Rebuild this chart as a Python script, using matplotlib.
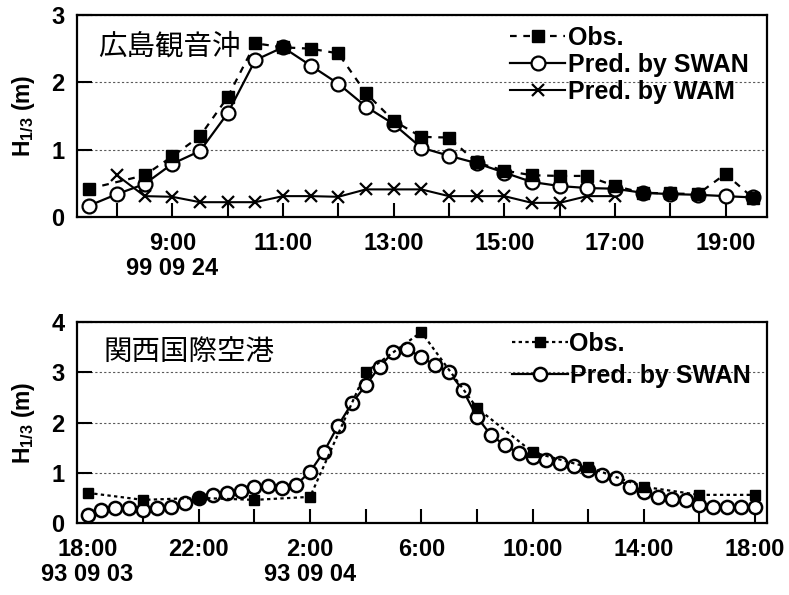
import matplotlib
matplotlib.use('Agg')
import matplotlib.pyplot as plt

plt.rcParams['font.family'] = ['Liberation Sans', 'Noto Sans CJK JP', 'DejaVu Sans']
plt.rcParams['font.weight'] = 'bold'
plt.rcParams['mathtext.fontset'] = 'custom'
plt.rcParams['mathtext.rm'] = 'Liberation Sans:bold'
plt.rcParams['mathtext.it'] = 'Liberation Sans:bold'
plt.rcParams['mathtext.bf'] = 'Liberation Sans:bold'

# ---------------- Top panel: 広島観音沖 (hours of 99 09 24) ----------------
top_obs_t = [7.5, 8.5, 9.0, 9.5, 10.0, 10.5, 11.0, 11.5, 12.0, 12.5, 13.0, 13.5,
             14.0, 14.5, 15.0, 15.5, 16.0, 16.5, 17.0, 17.5, 18.0, 18.5, 19.0, 19.5]
top_obs = [0.42, 0.62, 0.90, 1.20, 1.78, 2.58, 2.52, 2.50, 2.43, 1.84, 1.43, 1.19,
           1.18, 0.81, 0.69, 0.62, 0.61, 0.61, 0.46, 0.36, 0.35, 0.34, 0.64, 0.28]

top_swan_t = [7.5, 8.0, 8.5, 9.0, 9.5, 10.0, 10.5, 11.0, 11.5, 12.0, 12.5, 13.0, 13.5,
              14.0, 14.5, 15.0, 15.5, 16.0, 16.5, 17.0, 17.5, 18.0, 18.5, 19.0, 19.5]
top_swan = [0.17, 0.34, 0.49, 0.79, 0.98, 1.54, 2.33, 2.52, 2.25, 1.98, 1.64, 1.38, 1.03,
            0.91, 0.80, 0.66, 0.52, 0.46, 0.43, 0.42, 0.36, 0.34, 0.33, 0.31, 0.29]

top_wam_t = [8.0, 8.5, 9.0, 9.5, 10.0, 10.5, 11.0, 11.5, 12.0, 12.5, 13.0, 13.5,
             14.0, 14.5, 15.0, 15.5, 16.0, 16.5, 17.0]
top_wam = [0.62, 0.31, 0.30, 0.22, 0.22, 0.22, 0.31, 0.31, 0.30, 0.41, 0.41, 0.41,
           0.31, 0.31, 0.31, 0.21, 0.21, 0.31, 0.31]

top_ticks = [8, 9, 10, 11, 12, 13, 14, 15, 16, 17, 18, 19]
top_ticklabels = ['', '9:00\n99 09 24', '', '11:00', '', '13:00', '', '15:00', '', '17:00', '', '19:00']

# ---------------- Bottom panel: 関西国際空港 (hours since 18:00 93 09 03) ----------------
bot_obs_t = [0, 2, 4, 6, 8, 10, 12, 14, 16, 18, 20, 22, 24]
bot_obs = [0.60, 0.46, 0.50, 0.46, 0.52, 3.00, 3.80, 2.29, 1.41, 1.11, 0.72, 0.56, 0.56]

bot_swan_t = [0, 0.5, 1, 1.5, 2, 2.5, 3, 3.5, 4, 4.5, 5, 5.5, 6, 6.5, 7, 7.5, 8, 8.5,
              9, 9.5, 10, 10.5, 11, 11.5, 12, 12.5, 13, 13.5, 14, 14.5, 15, 15.5, 16,
              16.5, 17, 17.5, 18, 18.5, 19, 19.5, 20, 20.5, 21, 21.5, 22, 22.5, 23, 23.5, 24]
bot_swan = [0.16, 0.26, 0.29, 0.29, 0.26, 0.29, 0.32, 0.39, 0.49, 0.56, 0.60, 0.64, 0.72,
            0.74, 0.69, 0.76, 1.02, 1.42, 1.93, 2.38, 2.74, 3.11, 3.41, 3.46, 3.30, 3.14,
            3.00, 2.64, 2.11, 1.75, 1.55, 1.39, 1.31, 1.25, 1.19, 1.13, 1.06, 0.96, 0.89,
            0.72, 0.62, 0.52, 0.48, 0.45, 0.36, 0.32, 0.32, 0.32, 0.32]

bot_ticks = [0, 2, 4, 6, 8, 10, 12, 14, 16, 18, 20, 22, 24]
bot_ticklabels = ['18:00\n93 09 03', '', '22:00', '', '2:00\n93 09 04', '', '6:00', '',
                  '10:00', '', '14:00', '', '18:00']

W, H = 789, 595
fig = plt.figure(figsize=(W / 100, H / 100), dpi=100)

def frac(l, t, r, b):
    return [l / W, 1 - b / H, (r - l) / W, (b - t) / H]

ax1 = fig.add_axes(frac(77, 15, 767, 217))
ax2 = fig.add_axes(frac(77, 322, 767, 523))

# top panel
ax1.plot(top_wam_t, top_wam, color='black', lw=1.5, marker='x', ms=9, mew=1.6,
         label='Pred. by WAM', zorder=3)
ax1.plot(top_swan_t, top_swan, color='black', lw=1.6, marker='o', ms=10, mfc='white',
         mec='black', mew=1.6, label='Pred. by SWAN', zorder=4)
ax1.plot(top_obs_t, top_obs, color='black', lw=1.6, ls=(0, (3, 3)), marker='s', ms=8,
         mfc='black', mec='black', label='Obs.', zorder=5)
ax1.set_xlim(7.277, 19.75)
ax1.set_ylim(0, 3)
ax1.set_yticks([0, 1, 2, 3])
ax1.set_xticks(top_ticks)
ax1.set_xticklabels(top_ticklabels, linespacing=1.1)

# bottom panel
ax2.plot(bot_swan_t, bot_swan, color='black', lw=1.6, marker='o', ms=9.5, mfc='white',
         mec='black', mew=1.8, label='Pred. by SWAN', zorder=4)
ax2.plot(bot_obs_t, bot_obs, color='black', lw=1.6, ls=(0, (1.5, 1.5)), marker='s', ms=7,
         mfc='black', mec='black', label='Obs.', zorder=5)
ax2.set_xlim(-0.38, 24.43)
ax2.set_ylim(0, 4)
ax2.set_yticks([0, 1, 2, 3, 4])
ax2.set_xticks(bot_ticks)
ax2.set_xticklabels(bot_ticklabels, linespacing=1.1)

for ax in (ax1, ax2):
    for s in ax.spines.values():
        s.set_linewidth(1.6)
    ax.grid(axis='y', ls=(0, (2, 2)), color='0.35', lw=0.8)
    ax.tick_params(axis='x', direction='in', length=10, width=1.5, labelsize=17, pad=11)
    ax.tick_params(axis='y', direction='in', length=11, width=1.5, labelsize=17, pad=9)
    ax.set_ylabel(r'$\mathrm{H}_{1/3}$ (m)', fontsize=16.5, fontweight='bold')
    ax.yaxis.label.set_va('center')
    ax.yaxis.set_label_coords(-0.078, 0.5)

ax1.text(0.030, 0.842, '広島観音沖', transform=ax1.transAxes, fontsize=20.5,
         fontweight='normal', family='Noto Sans CJK JP', ha='left', va='center')
ax2.text(0.038, 0.851, '関西国際空港', transform=ax2.transAxes, fontsize=20.5,
         fontweight='normal', family='Noto Sans CJK JP', ha='left', va='center')

h1, l1 = ax1.get_legend_handles_labels()
order = [2, 1, 0]
ax1.legend([h1[i] for i in order], [l1[i] for i in order], loc='upper left',
           bbox_to_anchor=(510 / W, 1 - 26 / H), bbox_transform=fig.transFigure,
           frameon=False, borderpad=0, borderaxespad=0, handlelength=2.2,
           handletextpad=0.12, labelspacing=0.12, numpoints=1,
           prop={'size': 18, 'weight': 'bold'})

h2, l2 = ax2.get_legend_handles_labels()
ax2.legend([h2[1], h2[0]], [l2[1], l2[0]], loc='upper left',
           bbox_to_anchor=(512 / W, 1 - 332 / H), bbox_transform=fig.transFigure,
           frameon=False, borderpad=0, borderaxespad=0, handlelength=2.25,
           handletextpad=0.05, labelspacing=0.32, numpoints=1,
           prop={'size': 18, 'weight': 'bold'})

fig.savefig('out.png', dpi=100)
